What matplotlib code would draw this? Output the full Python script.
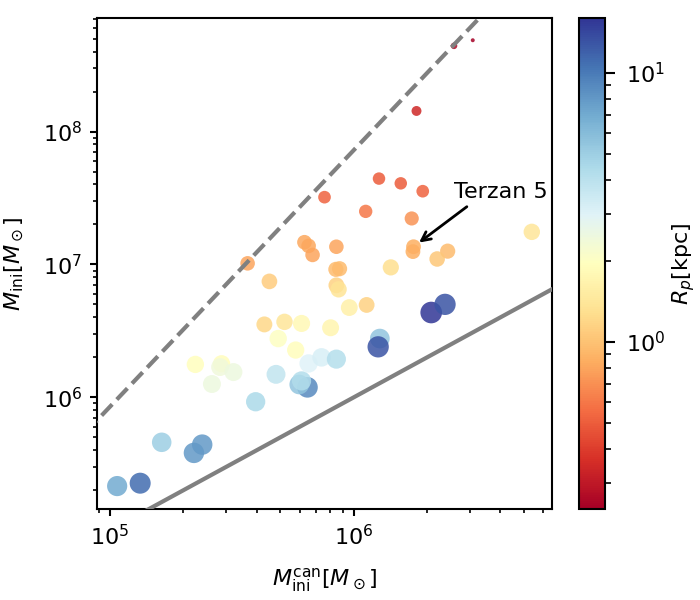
import numpy as np
import matplotlib
matplotlib.use('Agg')
import matplotlib.pyplot as plt
from matplotlib.colors import LogNorm
from matplotlib.cm import ScalarMappable

# canonical initial mass vs initial mass, coloured by pericentre
m_can = [3.08e6, 2.58e6, 1.81e6, 1.27e6, 1.56e6, 1.92e6, 7.59e5, 1.12e6, 1.73e6, 5.38e6,
         6.28e5, 6.53e5, 6.78e5, 8.49e5, 1.76e6, 1.75e6, 2.43e6, 2.20e6, 8.45e5, 8.75e5,
         1.42e6, 3.67e5, 4.51e5, 8.49e5, 8.67e5, 9.59e5, 1.13e6, 4.30e5, 5.20e5, 6.11e5,
         8.04e5, 4.90e5, 5.78e5, 2.24e5, 2.87e5, 2.83e5, 3.21e5, 2.62e5, 4.80e5, 6.53e5,
         7.38e5, 8.49e5, 6.46e5, 5.98e5, 6.11e5, 3.96e5, 1.28e6, 1.26e6, 2.08e6, 2.37e6,
         1.63e5, 2.39e5, 2.21e5, 1.07e5, 1.33e5]
m_ini = [4.87e8, 4.42e8, 1.43e8, 4.43e7, 4.08e7, 3.56e7, 3.21e7, 2.51e7, 2.22e7, 1.76e7,
         1.47e7, 1.38e7, 1.18e7, 1.36e7, 1.36e7, 1.25e7, 1.26e7, 1.10e7, 9.19e6, 9.29e6,
         9.51e6, 1.02e7, 7.46e6, 6.97e6, 6.50e6, 4.74e6, 4.96e6, 3.54e6, 3.70e6, 3.60e6,
         3.34e6, 2.77e6, 2.27e6, 1.77e6, 1.79e6, 1.69e6, 1.55e6, 1.26e6, 1.49e6, 1.80e6,
         2.00e6, 1.94e6, 1.19e6, 1.25e6, 1.33e6, 9.27e5, 2.77e6, 2.40e6, 4.35e6, 5.01e6,
         4.59e5, 4.41e5, 3.82e5, 2.15e5, 2.26e5]
r_p = [0.24, 0.26, 0.34, 0.5, 0.5, 0.52, 0.52, 0.6, 0.72, 1.4,
       0.82, 0.82, 0.8, 0.8, 0.85, 0.85, 0.95, 1.05, 0.95, 0.95,
       1.3, 0.8, 1.1, 1.15, 1.35, 1.6, 1.15, 1.2, 1.4, 1.8,
       1.7, 2.0, 1.9, 1.95, 1.9, 2.4, 2.5, 2.5, 3.8, 3.0,
       3.2, 4.2, 9.0, 5.5, 4.3, 4.5, 5.5, 13.0, 16.0, 13.0,
       5.0, 8.0, 8.0, 7.0, 11.0]
terzan = 14

m_can = np.array(m_can)
m_ini = np.array(m_ini)
r_p = np.array(r_p)

# marker size grows with pericentre
diam = 21 * (np.log10(r_p / 0.235) / 1.67) ** 0.32
sizes = (diam * 0.72) ** 2

fig = plt.figure(figsize=(7, 6), dpi=100)
ax = fig.add_axes([0.139, 0.152, 0.65, 0.818])
cax = fig.add_axes([0.827, 0.152, 0.037, 0.818])

norm = LogNorm(vmin=0.24, vmax=16)
ax.scatter(m_can, m_ini, c=r_p, s=sizes, cmap='RdYlBu', norm=norm,
           alpha=0.85, edgecolors='none', zorder=2)

xx = np.array([8e4, 7e6])
ax.plot(xx, xx, color='gray', lw=3, zorder=3)
ax.plot(xx, 10**(-3.72) * xx**1.93, color='gray', lw=3, ls='--', zorder=3)

ax.annotate('Terzan 5', xy=(m_can[terzan], m_ini[terzan]), xytext=(2.58e6, 3.15e7),
            fontsize=16, ha='left', va='baseline',
            arrowprops=dict(arrowstyle='->', color='black', lw=2, shrinkB=5,
                            relpos=(0.2, 0.0)))

ax.set_xscale('log')
ax.set_yscale('log')
ax.set_xlim(8.87e4, 6.53e6)
ax.set_ylim(1.45e5, 7.16e8)
ax.set_xlabel(r'$M_{\rm ini}^{\rm can}[M_\odot]$', fontsize=16, labelpad=12)
ax.set_ylabel(r'$M_{\rm ini}[M_\odot]$', fontsize=16, labelpad=12)

for sp in ax.spines.values():
    sp.set_linewidth(1.5)
ax.tick_params(which='major', labelsize=16, length=5, width=1.5, pad=6)
ax.tick_params(which='minor', length=3, width=1.2)

cb = fig.colorbar(ScalarMappable(norm=norm, cmap='RdYlBu'), cax=cax)
cb.outline.set_linewidth(1.5)
cax.tick_params(which='major', labelsize=16, length=7, width=1.5, pad=8)
cax.tick_params(which='minor', length=4, width=1.2)
cb.set_label(r'$R_p[\rm kpc]$', fontsize=16, labelpad=4)

fig.savefig('out.png', dpi=100)
